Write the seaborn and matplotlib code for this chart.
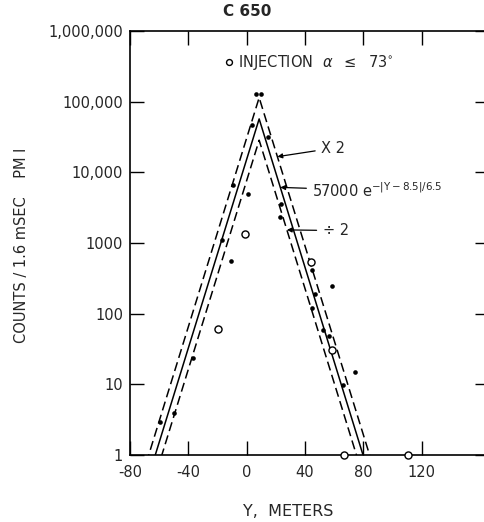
import numpy as np
import matplotlib
matplotlib.use("Agg")
import matplotlib.pyplot as plt
import seaborn as sns

# fit quoted on the chart: 57000 e^-|Y-8.5|/6.5, plus x2 and /2 bands
fit_amp = 57000
fit_center = 8.5
fit_length = 6.5
band_factors = [2.0, 1.0, 0.5]
band_styles = [(0, (6, 3)), "-", (0, (6, 3))]
fit_span = [-80, fit_center, 160]

# measured counts (solid dots)
filled_y = [6, 10, 3.5, 14.5, -9.5, 0.8, -17, -10.8, 23.4, 22.7, 44.5,
            58.4, 47, 44.7, 52.2, 56.3, 74.1, 65.9, -36.8, -59.5, -49.9]
filled_counts = [130000, 130000, 47000, 31600, 6700, 4900, 1100, 550, 3600, 2350, 420,
                 250, 190, 120, 59, 49, 15, 9.7, 23.6, 2.9, 3.9]

# injection alpha <= 73 deg (open circles)
open_y = [-1.2, -19.7, 44, 58.4, 66.6, 110.4]
open_counts = [1340, 61, 540, 31, 1, 1]

xticks = [-80, -40, 0, 40, 80, 120]
yticks = [1, 10, 100, 1000, 1e4, 1e5, 1e6]
ytick_labels = ["1", "10", "100", "1000", "10,000", "100,000", "1,000,000"]

sns.set_style("ticks")
plt.rcParams["font.family"] = ["DejaVu Sans"]

fig = plt.figure(figsize=(4.84, 5.22), dpi=100)
# right spine sits just past the image edge, as in the scan
ax = fig.add_axes([130 / 484, 1 - 455 / 522, 359 / 484, 424 / 522])


def fit(y, k):
    return k * fit_amp * np.exp(-np.abs(np.asarray(y) - fit_center) / fit_length)


for k, ls in zip(band_factors, band_styles):
    sns.lineplot(x=fit_span, y=fit(fit_span, k), ax=ax, color="black",
                 linewidth=1.1, linestyle=ls, sort=False)

sns.scatterplot(x=filled_y, y=filled_counts, ax=ax, color="black", s=11,
                marker="o", edgecolor="black", linewidth=0, zorder=5)
sns.scatterplot(x=open_y, y=open_counts, ax=ax, facecolor="white", s=26,
                marker="o", edgecolor="black", linewidth=1.0, zorder=6,
                clip_on=False)

ax.set_yscale("log")
ax.set_xlim(-80, 166)
ax.set_ylim(1, 1e6)
ax.set_xticks(xticks)
ax.set_xticklabels([str(t) for t in xticks])
ax.set_yticks(yticks)
ax.set_yticklabels(ytick_labels)
ax.minorticks_off()
ax.tick_params(axis="both", which="major", direction="in", length=10,
               width=1.0, labelsize=10.5, top=True, right=True, color="black")
ax.tick_params(axis="x", pad=7)
ax.tick_params(axis="y", pad=5)
for sp in ax.spines.values():
    sp.set_linewidth(1.2)
    sp.set_color("black")

ax.set_xlabel("")
ax.set_ylabel("")
fig.text(288 / 484, 1 - 512 / 522, "Y,  METERS", ha="center", va="center",
         fontsize=11.5)
fig.text(22 / 484, 1 - 245 / 522, "COUNTS / 1.6 mSEC    PM I",
         rotation=90, ha="center", va="center", fontsize=10.5)
fig.text(247 / 484, 1 - 12 / 522, "C 650", ha="center", va="center",
         fontsize=11, fontweight="bold")

# legend line
ax.scatter([-12], [3.6e5], s=18, facecolor="white", edgecolor="black",
           linewidth=1.0, zorder=6)
ax.text(-6, 3.6e5, r"INJECTION  $\alpha$  $\leq$  73$^{\circ}$",
        ha="left", va="center", fontsize=10.5)

# labels for the three lines
arrow = dict(arrowstyle="-|>", color="black", lw=0.9,
             mutation_scale=7, shrinkA=2, shrinkB=0)
ax.annotate("X 2", xy=(21, fit(21, 2)), xytext=(51, 2.2e4),
            ha="left", va="center", fontsize=10.5, arrowprops=arrow)
ax.annotate(r"57000 e$^{\mathrm{-|Y-8.5|/6.5}}$", xy=(23, fit(23, 1)),
            xytext=(45, 5.5e3), ha="left", va="center", fontsize=10.5,
            arrowprops=arrow)
ax.annotate("÷ 2", xy=(27.5, fit(27.5, 0.5)), xytext=(52, 1.5e3),
            ha="left", va="center", fontsize=10.5, arrowprops=arrow)

fig.savefig("out.png", dpi=100)
